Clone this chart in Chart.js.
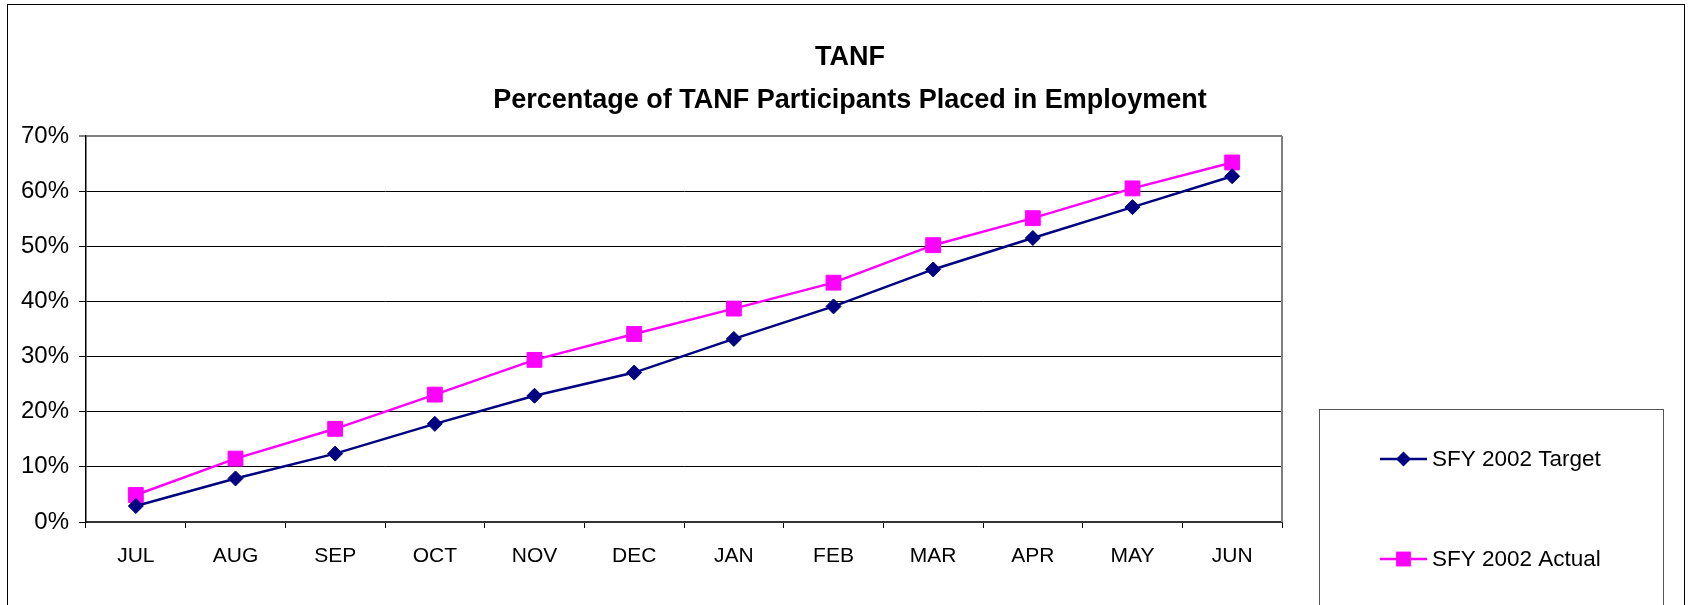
<!DOCTYPE html>
<html>
<head>
<meta charset="utf-8">
<script src="https://cdn.jsdelivr.net/npm/chart.js@4/dist/chart.umd.min.js"></script>
<style>
  body { margin: 0; background: #fff; }
  #wrap { width: 1691px; height: 605px; }
</style>
</head>
<body>
<div id="wrap"><canvas id="tanfChart" width="1691" height="605"></canvas></div>
<script>
// values (percent)
const months = ['JUL', 'AUG', 'SEP', 'OCT', 'NOV', 'DEC', 'JAN', 'FEB', 'MAR', 'APR', 'MAY', 'JUN'];
const targetPct = [2.9, 7.9, 12.4, 17.8, 22.9, 27.1, 33.2, 39.1, 45.8, 51.5, 57.1, 62.7];
const actualPct = [4.9, 11.5, 16.9, 23.1, 29.4, 34.1, 38.7, 43.4, 50.2, 55.1, 60.5, 65.2];
const seriesNames = ['SFY 2002 Target', 'SFY 2002 Actual'];
const titleLines = ['TANF', 'Percentage of TANF Participants Placed in Employment'];

const FONT = '"Liberation Sans", Arial, sans-serif';
const NAVY = '#000080';
const PINK = '#FF00FF';

// frame, right border of the plot and the boxed legend
const framePlugin = {
  id: 'frame',
  beforeDraw(chart) {
    const c = chart.ctx;
    c.save();
    c.fillStyle = '#fff';
    c.fillRect(0, 0, chart.width, chart.height);
    c.strokeStyle = '#000';
    c.lineWidth = 1;
    c.strokeRect(7.5, 4.5, chart.width - 14, chart.height + 20);
    c.restore();
  },
  afterDraw(chart) {
    const c = chart.ctx;
    const a = chart.chartArea;
    c.save();
    c.strokeStyle = '#808080';
    c.lineWidth = 2;
    c.beginPath();
    c.moveTo(a.right, a.top);
    c.lineTo(a.right, a.bottom);
    c.stroke();

    // legend box
    const bx = a.right + 37, by = 409;
    c.strokeStyle = '#555';
    c.lineWidth = 1;
    c.strokeRect(bx + 0.5, by + 0.5, 344, 220);

    chart.data.datasets.forEach((ds, i) => {
      const y = 459 + i * 100;
      const x0 = bx + 61, x1 = bx + 108, xm = (x0 + x1) / 2;
      c.strokeStyle = ds.borderColor;
      c.lineWidth = ds.borderWidth;
      c.beginPath();
      c.moveTo(x0, y);
      c.lineTo(x1, y);
      c.stroke();
      c.fillStyle = ds.pointBackgroundColor;
      c.beginPath();
      if (ds.pointStyle === 'rectRot') {
        const r = ds.pointRadius;
        c.moveTo(xm, y - r); c.lineTo(xm + r, y); c.lineTo(xm, y + r); c.lineTo(xm - r, y);
        c.closePath();
      } else {
        const s = ds.pointRadius * Math.SQRT1_2;
        c.rect(xm - s, y - s, 2 * s, 2 * s);
      }
      c.fill();
      c.fillStyle = '#000';
      c.font = '22.5px ' + FONT;
      c.textBaseline = 'middle';
      c.textAlign = 'left';
      c.fillText(ds.label, x1 + 5, y + 1);
    });
    c.restore();
  }
};

const config = {
  type: 'line',
  data: {
    labels: months,
    datasets: [
      {
        label: seriesNames[0],
        data: targetPct,
        borderColor: NAVY,
        backgroundColor: NAVY,
        pointBackgroundColor: NAVY,
        pointBorderColor: NAVY,
        borderWidth: 2.5,
        pointStyle: 'rectRot',
        pointRadius: 7.5,
        pointBorderWidth: 1,
        tension: 0
      },
      {
        label: seriesNames[1],
        data: actualPct,
        borderColor: PINK,
        backgroundColor: PINK,
        pointBackgroundColor: PINK,
        pointBorderColor: PINK,
        borderWidth: 2.5,
        pointStyle: 'rect',
        pointRadius: 10.5,
        pointBorderWidth: 1,
        tension: 0
      }
    ]
  },
  options: {
    responsive: false,
    animation: false,
    layout: { padding: { left: 16, right: 7, top: 0, bottom: 0 } },
    plugins: {
      legend: { display: false },
      tooltip: { enabled: false },
      title: {
        display: true,
        text: titleLines,
        color: '#000',
        font: { family: FONT, size: 27, weight: 'bold', lineHeight: 1.6 },
        padding: { top: 36, bottom: 13.6 }
      }
    },
    scales: {
      x: {
        offset: true,
        grid: {
          offset: true,
          drawOnChartArea: false,
          drawTicks: true,
          tickLength: 6,
          color: '#000'
        },
        border: { color: '#333', width: 2 },
        ticks: {
          color: '#000',
          font: { family: FONT, size: 21 },
          padding: 16,
          maxRotation: 0,
          autoSkip: false
        },
        afterFit(s) { s.height = 83; }
      },
      y: {
        min: 0,
        max: 70,
        grid: {
          color: ctx => ctx.tick && ctx.tick.value === 70 ? '#808080' : '#000',
          lineWidth: ctx => ctx.tick && ctx.tick.value === 70 ? 2 : 1,
          tickLength: 7
        },
        border: { color: '#000', width: 1.5 },
        ticks: {
          stepSize: 10,
          color: '#000',
          padding: 10,
          font: { family: FONT, size: 24 },
          callback: v => v + '%'
        },
        afterFit(s) { s.width = 70; }
      },
      legendSpace: {
        position: 'right',
        display: true,
        grid: { display: false },
        border: { display: false },
        ticks: { display: false },
        afterFit(s) { s.width = 402; }
      }
    }
  },
  plugins: [framePlugin]
};

const ctx = document.getElementById('tanfChart').getContext('2d');
const tanfChart = new Chart(ctx, config);
</script>
</body>
</html>
